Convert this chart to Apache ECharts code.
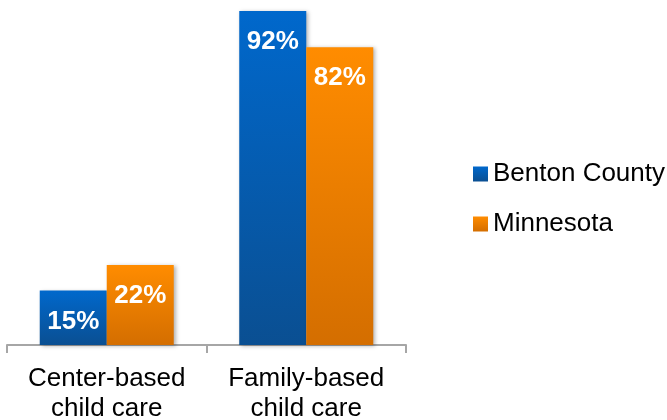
<!DOCTYPE html>
<html>
<head>
<meta charset="utf-8">
<script src="https://cdn.jsdelivr.net/npm/echarts@6/dist/echarts.min.js"></script>
<style>html,body{margin:0;padding:0;background:#fff}#c{width:667px;height:420px}</style>
</head>
<body>
<div id="c"></div>
<script>
const categories = ['Center-based\nchild care', 'Family-based\nchild care'];
const seriesNames = ['Benton County', 'Minnesota'];
const bentonValues = [15, 92];
const minnesotaValues = [22, 82];

const FONT = '"Liberation Sans", Arial, sans-serif';
function grad(top, bottom) {
  return new echarts.graphic.LinearGradient(0, 0, 0, 1, [
    { offset: 0, color: top }, { offset: 1, color: bottom }
  ]);
}
const label = {
  show: true, position: 'insideTop', distance: 18,
  color: '#fff', fontWeight: 'bold', fontSize: 26, fontFamily: FONT,
  formatter: p => p.value + '%'
};
const shadow = { shadowColor: 'rgba(0,0,0,0.3)', shadowBlur: 4, shadowOffsetX: 2, shadowOffsetY: 1 };

const chart = echarts.init(document.getElementById('c'), null, { renderer: 'canvas' });
chart.setOption({
  animation: false,
  backgroundColor: '#fff',
  grid: { left: 7, right: 261, top: 0, bottom: 75, containLabel: false, outerBoundsMode: 'none' },
  legend: {
    orient: 'vertical', left: 468, top: 154, icon: 'rect',
    itemWidth: 15, itemHeight: 15, itemGap: 20,
    textStyle: { fontSize: 26, fontFamily: FONT, color: '#000', lineHeight: 30 },
    data: seriesNames
  },
  xAxis: {
    type: 'category', data: categories,
    axisLine: { lineStyle: { color: '#a6a6a6', width: 2 } },
    axisTick: { show: true, length: 8, lineStyle: { color: '#a6a6a6', width: 2 } },
    axisLabel: { interval: 0, fontSize: 26, fontFamily: FONT, color: '#000', lineHeight: 30, margin: 19 }
  },
  yAxis: { type: 'value', min: 0, max: 95, show: false, splitLine: { show: false } },
  series: [
    { name: seriesNames[0], type: 'bar', data: bentonValues, barWidth: 67, barGap: '0%',
      itemStyle: Object.assign({ color: grad('#0068cc', '#0a4f92') }, shadow), label },
    { name: seriesNames[1], type: 'bar', data: minnesotaValues, barWidth: 67, barGap: '0%',
      itemStyle: Object.assign({ color: grad('#ff8c00', '#d46e00') }, shadow), label }
  ]
});
</script>
</body>
</html>
